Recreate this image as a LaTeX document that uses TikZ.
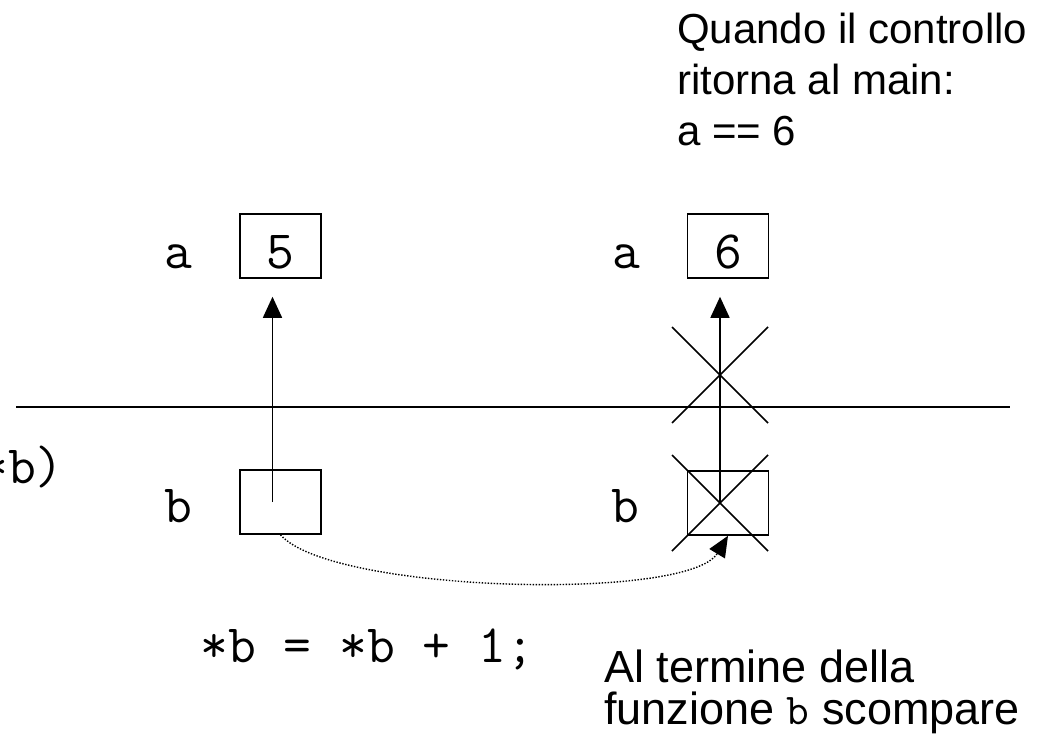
\documentclass[tikz,border=0pt]{standalone}
\usepackage{fontspec}
\setmainfont{Liberation Sans}
\usetikzlibrary{arrows.meta}
\newcommand{\codefont}{\fontsize{54}{62}\selectfont\ttfamily}
\tikzset{
  cell/.style={rectangle, draw, line width=1.5pt, minimum width=81pt, minimum height=64pt,
               inner sep=0pt, text height=46pt, font=\codefont},
  lbl/.style={inner sep=0pt, font=\codefont, anchor=base},
  code/.style={inner sep=0pt, font=\codefont},
  note/.style={inner sep=0pt, align=left, font=\fontsize{42}{51}\selectfont},
  notesm/.style={inner sep=0pt, align=left, font=\fontsize{45}{42}\selectfont},
  ptr/.style={-{Triangle[length=21pt,width=19pt]}, line width=1.5pt},
  link/.style={-{Triangle[length=21pt,width=18pt]}, line width=1.4pt, dash pattern=on 1.4pt off 1.6pt},
  xline/.style={line width=1.6pt},
  sep/.style={line width=2pt},
}

\begin{document}
\begin{tikzpicture}[x=1pt, y=-1pt]
  \useasboundingbox (0,0) rectangle (1048,737);
  \node[cell] (a1) at (280.5,246) {5};
  \node[cell] (b1) at (280.5,502) {};
  \node[cell] (a2) at (728,246) {6};
  \node[cell] (b2) at (728,503) {};
  \node[lbl] (la1) at (178,268) {a};
  \node[lbl] (lb1) at (178,522) {b};
  \node[lbl] (la2) at (626,268) {a};
  \node[lbl] (lb2) at (625,522) {b};
  \node[code, anchor=base east] (par) at (64,483) {*b)};
  \node[code, anchor=base west] (stmt) at (200,662) {*b = *b + 1;};
  \node[note, anchor=north west] (ret) at (677,13) {Quando il controllo\\ritorna al main:\\a == 6};
  \node[notesm, anchor=north west] (end) at (604,650)
    {Al termine della\\funzione {\ttfamily\fontsize{44}{42}\selectfont b} scompare};
  \draw[sep] (16,407) -- (1010,407);
  \draw[ptr, shorten >=18pt] ([xshift=-8pt]b1.center) -- ([xshift=-8pt]a1.south);
  \draw[ptr, shorten >=18pt] ([xshift=-8pt]b2.center) -- ([xshift=-8pt]a2.south);
  \coordinate (xup) at (720,375);
  \coordinate (xdn) at ([xshift=-8pt]b2.center);
  \draw[xline] (xup) ++(-48,-48) -- ++(96,96) (xup) ++(-48,48) -- ++(96,-96);
  \draw[xline] (xdn) ++(-48,-48) -- ++(96,96) (xdn) ++(-48,48) -- ++(96,-96);
  \draw[link] (b1.south) .. controls +(50,58) and +(-40,66) .. (b2.south);
\end{tikzpicture}
\end{document}
